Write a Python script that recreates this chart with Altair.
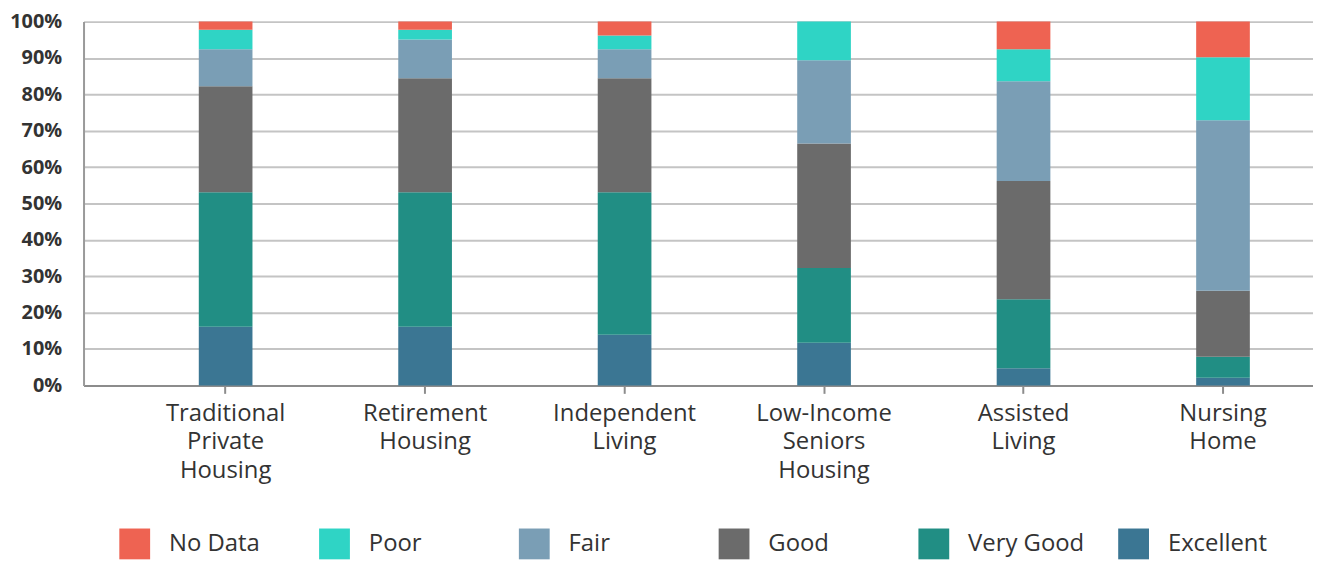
import altair as alt
import pandas as pd

categories = ["Traditional Private Housing", "Retirement Housing", "Independent Living",
              "Low-Income Seniors Housing", "Assisted Living", "Nursing Home"]
ratings = ["No Data", "Poor", "Fair", "Good", "Very Good", "Excellent"]
colors = ["#EE6352", "#2FD4C5", "#7A9EB5", "#6B6B6B", "#218E84", "#3B7693"]

excellent = [16.1, 16.1, 13.9, 11.7, 4.7, 2.1]
very_good = [37.0, 37.0, 39.2, 20.6, 19.0, 5.8]
good = [29.1, 31.3, 31.3, 34.2, 32.5, 18.1]
fair = [10.2, 10.7, 8.0, 22.9, 27.4, 46.9]
poor = [5.4, 2.7, 3.8, 10.6, 8.8, 17.3]
no_data = [2.2, 2.2, 3.8, 0.0, 7.6, 9.8]
y_ticks = [0, 10, 20, 30, 40, 50, 60, 70, 80, 90, 100]

series = {
    "Excellent": excellent,
    "Very Good": very_good,
    "Good": good,
    "Fair": fair,
    "Poor": poor,
    "No Data": no_data,
}
rows = []
for order, (rating, vals) in enumerate(series.items()):
    for cat, v in zip(categories, vals):
        rows.append({"Category": cat, "Rating": rating, "Value": v, "StackOrder": order})
df = pd.DataFrame(rows)

FONT = "Open Sans"

chart = alt.Chart(df).mark_bar().encode(
    x=alt.X("Category:N", sort=categories,
            scale=alt.Scale(paddingInner=0.7309, paddingOuter=0.4472, align=0.646, round=False),
            axis=alt.Axis(title=None, labelAngle=0, labelExpr="split(datum.label, ' ')",
                          labelFont=FONT, labelFontSize=24, labelLineHeight=29,
                          labelColor="#333333", labelBaseline="top", labelPadding=8,
                          tickSize=8, tickColor="#8c8c8c", tickWidth=2,
                          domainColor="#8c8c8c", domainWidth=2, grid=False)),
    y=alt.Y("Value:Q", stack="zero",
            scale=alt.Scale(domain=[0, 100], nice=False),
            axis=alt.Axis(title=None, values=y_ticks, labelExpr="datum.value + '%'",
                          labelFont=FONT, labelFontSize=20, labelFontWeight="bold",
                          labelColor="#333333", labelPadding=22,
                          ticks=False, domainColor="#9a9a9a", domainWidth=2,
                          gridColor="#c4c4c4", gridWidth=2)),
    color=alt.Color("Rating:N", scale=alt.Scale(domain=ratings, range=colors),
                    legend=alt.Legend(title=None, orient="none", legendX=36, legendY=510,
                                      direction="horizontal", columns=6,
                                      symbolType="square", symbolSize=961,
                                      symbolStrokeWidth=0, symbolOpacity=1,
                                      labelFont=FONT, labelFontSize=24,
                                      labelColor="#333333", labelOffset=19,
                                      columnPadding=34, gridAlign="all", padding=0)),
    order=alt.Order("StackOrder:Q", sort="ascending"),
).properties(
    width=1237, height=366,
    autosize=alt.AutoSizeParams(type="none"),
    padding={"left": 76, "top": 12, "right": 0, "bottom": 179},
).configure_view(strokeWidth=0)

chart.save("out.html", embed_options={"renderer": "svg", "actions": False})
